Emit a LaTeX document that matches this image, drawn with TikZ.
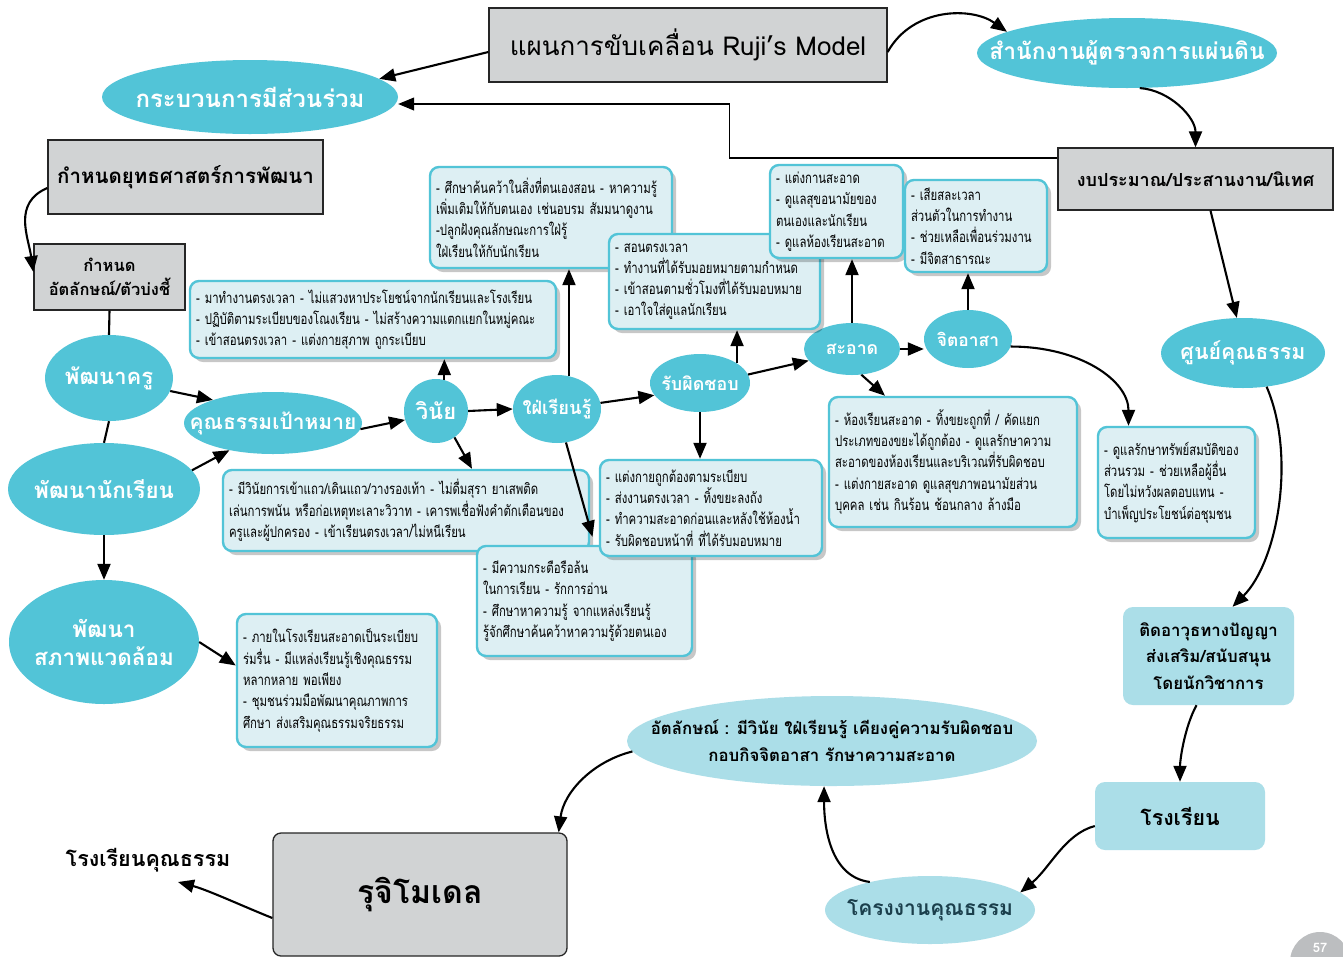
\documentclass[tikz,border=0pt]{standalone}
\usepackage{fontspec}
\setmainfont[Script=Thai]{Loma}
\newfontfamily\cond[Script=Thai,FakeStretch=0.76]{Loma}
\usetikzlibrary{shapes.geometric,arrows.meta,shadows}
\newcommand\bxl[1]{\mbox{#1}}
\definecolor{cyanE}{HTML}{52C4D7}
\definecolor{boxF}{HTML}{DDEFF3}
\definecolor{boxL}{HTML}{52C4D7}
\definecolor{grayF}{HTML}{D1D3D4}
\definecolor{lightB}{HTML}{ABDEE8}
\definecolor{darkT}{HTML}{1B3F4C}
\definecolor{pgG}{HTML}{BCBEC0}
\tikzset{
  ell/.style={ellipse, fill=cyanE, text=white, font=\bfseries, inner xsep=-40pt, inner ysep=-12pt, align=center},
  lell/.style={ellipse, fill=lightB, text=black, font=\bfseries, inner xsep=-40pt, inner ysep=-12pt, align=center},
  gbox/.style={draw=black!85, line width=1.3pt, fill=grayF, align=center, inner sep=0pt},
  lbox/.style={fill=lightB, rounded corners=10pt, align=center, inner sep=0pt, font=\bfseries},
  info/.style={draw=boxL, line width=2.4pt, fill=boxF, rounded corners=9pt,
    drop shadow={shadow xshift=4pt, shadow yshift=-4pt, opacity=0.22, fill=black},
    align=left, inner xsep=6pt, inner ysep=3pt, font=\cond\fontsize{15}{21.3}\selectfont},
  arr/.style={line width=2.1pt, -{Triangle[length=16pt,width=13pt]}},
  thinarr/.style={line width=1.1pt, -{Triangle[length=16pt,width=13pt]}},
  plain/.style={line width=2.1pt}
}
\begin{document}
\begin{tikzpicture}[x=1pt,y=-1pt]
\useasboundingbox (0,0) rectangle (1343,956);
\clip (0,0) rectangle (1343,956);
\fill[white] (0,0) rectangle (1343,956);

% grey boxes
\node[gbox, minimum width=398pt, minimum height=74pt, font=\fontsize{26}{30}\selectfont] (plan) at (688,45) {แผนการขับเคลื่อน Ruji’s Model};
\node[gbox, minimum width=275pt, minimum height=74pt, font=\bfseries\fontsize{20.5}{24}\selectfont] (yut) at (185.5,177) {กำหนดยุทธศาสตร์การพัฒนา};
\node[gbox, minimum width=151pt, minimum height=66pt, font=\bfseries\fontsize{16.5}{24}\selectfont] (att) at (109.5,277) {กำหนด\\อัตลักษณ์/ตัวบ่งชี้};
\node[gbox, minimum width=275pt, minimum height=62pt, font=\bfseries\fontsize{18}{22}\selectfont] (ngob) at (1195.5,179) {งบประมาณ/ประสานงาน/นิเทศ};
\node[gbox, rounded corners=8pt, minimum width=294pt, minimum height=123pt, font=\bfseries\fontsize{32}{36}\selectfont] (ruji) at (420,894.5) {รุจิโมเดล};

% ellipses
\node[ell, minimum width=296pt, minimum height=74pt, font=\bfseries\fontsize{24}{28}\selectfont] (kra) at (250,97) {กระบวนการมีส่วนร่วม};
\node[ell, minimum width=300pt, minimum height=70pt, font=\bfseries\fontsize{22.8}{26}\selectfont] (sam) at (1127,53) {สำนักงานผู้ตรวจการแผ่นดิน};
\node[ell, minimum width=164pt, minimum height=70pt, font=\bfseries\fontsize{21.4}{24}\selectfont] (sun) at (1243,353) {ศูนย์คุณธรรม};
\node[ell, minimum width=128pt, minimum height=86pt, font=\bfseries\fontsize{22}{24}\selectfont] (pkru) at (109,378) {พัฒนาครู};
\node[ell, minimum width=192pt, minimum height=92pt, font=\bfseries\fontsize{22.4}{24}\selectfont] (pnak) at (104,489) {พัฒนานักเรียน};
\node[ell, minimum width=190pt, minimum height=124pt, font=\bfseries\fontsize{22.5}{28}\selectfont] (psp) at (104,642) {พัฒนา\\สภาพแวดล้อม};
\node[ell, minimum width=178pt, minimum height=62pt, font=\bfseries\fontsize{21}{24}\selectfont] (kun) at (273,423) {คุณธรรมเป้าหมาย};
\node[ell, minimum width=64pt, minimum height=64pt, inner xsep=-10pt, font=\bfseries\fontsize{22}{24}\selectfont] (win) at (436,411) {วินัย};
\node[ell, minimum width=88pt, minimum height=68pt, inner xsep=-10pt, font=\bfseries\fontsize{18.3}{21}\selectfont] (fai) at (557,409) {ใฝ่เรียนรู้};
\node[ell, minimum width=100pt, minimum height=58pt, inner xsep=-10pt, font=\bfseries\fontsize{17.9}{20}\selectfont] (rab) at (700,383) {รับผิดชอบ};
\node[ell, minimum width=96pt, minimum height=52pt, inner xsep=-10pt, font=\bfseries\fontsize{17.7}{20}\selectfont] (sa) at (852,349) {สะอาด};
\node[ell, minimum width=88pt, minimum height=58pt, inner xsep=-10pt, font=\bfseries\fontsize{17.4}{20}\selectfont] (jit) at (968,339) {จิตอาสา};
\node[lell, text=darkT, minimum width=210pt, minimum height=68pt, font=\bfseries\fontsize{21}{24}\selectfont] (kro) at (930,910) {โครงงานคุณธรรม};
\node[lell, minimum width=410pt, minimum height=90pt, font=\bfseries\fontsize{16.8}{27}\selectfont] (id) at (832,741) {อัตลักษณ์ : มีวินัย ใฝ่เรียนรู้ เคียงคู่ความรับผิดชอบ\\กอบกิจจิตอาสา รักษาความสะอาด};

% light boxes
\node[lbox, minimum width=171pt, minimum height=98pt, font=\bfseries\fontsize{16.8}{26.5}\selectfont] (tid) at (1208.5,656) {ติดอาวุธทางปัญญา\\ส่งเสริม/สนับสนุน\\โดยนักวิชาการ};
\node[lbox, minimum width=170pt, minimum height=68pt, font=\bfseries\fontsize{21.4}{24}\selectfont] (rong) at (1180,816) {โรงเรียน};
\node[font=\bfseries\fontsize{21.5}{24}\selectfont] (rk) at (148,860) {โรงเรียนคุณธรรม};

% info boxes
\node[info, minimum height=101pt, text width=230pt] (a) at (551,217.5) {\bxl{- ศึกษาค้นคว้าในสิ่งที่ตนเองสอน - หาความรู้}\\\bxl{เพิ่มเติมให้กับตนเอง เช่นอบรม สัมมนาดูงาน}\\\bxl{-ปลูกฝังคุณลักษณะการใฝ่รู้}\\\bxl{ใฝ่เรียนให้กับนักเรียน}};
\node[info, minimum height=95pt, text width=199pt] (b) at (714.5,281.5) {\bxl{- สอนตรงเวลา}\\\bxl{- ทำงานที่ได้รับมอยหมายตามกำหนด}\\\bxl{- เข้าสอนตามชั่วโมงที่ได้รับมอบหมาย}\\\bxl{- เอาใจใส่ดูแลนักเรียน}};
\node[info, minimum height=93pt, text width=121pt] (c) at (836.5,211.5) {\bxl{- แต่งกานสะอาด}\\\bxl{- ดูแลสุขอนามัยของ}\\\bxl{ตนเองและนักเรียน}\\\bxl{- ดูแลห้องเรียนสะอาด}};
\node[info, minimum height=92pt, text width=130pt] (d) at (976,226) {\bxl{- เสียสละเวลา}\\\bxl{ส่วนตัวในการทำงาน}\\\bxl{- ช่วยเหลือเพื่อนร่วมงาน}\\\bxl{- มีจิตสาธารณะ}};
\node[info, minimum height=77pt, text width=354pt] (e) at (373,319.5) {\bxl{- มาทำงานตรงเวลา - ไม่แสวงหาประโยชน์จากนักเรียนและโรงเรียน}\\\bxl{- ปฏิบัติตามระเบียบของโณงเรียน - ไม่สร้างความแตกแยกในหมู่คณะ}\\\bxl{- เข้าสอนตรงเวลา - แต่งกายสุภาพ ถูกระเบียบ}};
\node[info, minimum height=81pt, text width=354pt] (f) at (406,510.5) {\bxl{- มีวินัยการเข้าแถว/เดินแถว/วางรองเท้า - ไม่ดื่มสุรา ยาเสพติด}\\\bxl{เล่นการพนัน หรือก่อเหตุทะเลาะวิวาท - เคารพเชื่อฟังคำตักเตือนของ}\\\bxl{ครูและผู้ปกครอง - เข้าเรียนตรงเวลา/ไม่หนีเรียน}};
\node[info, minimum height=110pt, text width=203pt] (h) at (584.5,601) {\bxl{- มีความกระตือรือล้น}\\\bxl{ในการเรียน - รักการอ่าน}\\\bxl{- ศึกษาหาความรู้ จากแหล่งเรียนรู้}\\\bxl{รู้จักศึกษาค้นคว้าหาความรู้ด้วยตนเอง}};
\node[info, minimum height=96pt, text width=210pt] (g) at (711,508) {\bxl{- แต่งกายถูกต้องตามระเบียบ}\\\bxl{- ส่งงานตรงเวลา - ทิ้งขยะลงถัง}\\\bxl{- ทำความสะอาดก่อนและหลังใช้ห้องน้ำ}\\\bxl{- รับผิดชอบหน้าที่ ที่ได้รับมอบหมาย}};
\node[info, minimum height=130pt, text width=236pt] (i) at (953,462) {\bxl{- ห้องเรียนสะอาด - ทิ้งขยะถูกที่ / คัดแยก}\\\bxl{ประเภทของขยะได้ถูกต้อง - ดูแลรักษาความ}\\\bxl{สะอาดของห้องเรียนและบริเวณที่รับผิดชอบ}\\\bxl{- แต่งกายสะอาด ดูแลสุขภาพอนามัยส่วน}\\\bxl{บุคคล เช่น กินร้อน ช้อนกลาง ล้างมือ}};
\node[info, minimum height=111pt, text width=145pt] (j) at (1176.5,482.5) {\bxl{- ดูแลรักษาทรัพย์สมบัติของ}\\\bxl{ส่วนรวม - ช่วยเหลือผู้อื่น}\\\bxl{โดยไม่หวังผลตอบแทน -}\\\bxl{บำเพ็ญประโยชน์ต่อชุมชน}};
\node[info, minimum height=133pt, text width=188pt] (k) at (337,680.5) {\bxl{- ภายในโรงเรียนสะอาดเป็นระเบียบ}\\\bxl{ร่มรื่น - มีแหล่งเรียนรู้เชิงคุณธรรม}\\\bxl{หลากหลาย พอเพียง}\\\bxl{- ชุมชนร่วมมือพัฒนาคุณภาพการ}\\\bxl{ศึกษา ส่งเสริมคุณธรรมจริยธรรม}};

% page number
\node[circle, fill=pgG, minimum size=60pt] (pg) at (1320,962) {};
\node[text=white, font=\bfseries\fontsize{13}{14}\selectfont, inner sep=0pt] (pgn) at (1320,948) {57};

% connectors
\draw[arr] ([yshift=-7pt]plan.west) -- (kra.8);
\draw[arr] ([yshift=-7pt]plan.east) .. controls +(25,-45) and +(-35,-25) .. (sam.170);
\draw[arr] (sam.-70) .. controls +(30,2) and +(0,-30) .. (ngob.north);
\draw[thinarr] ([yshift=21pt]ngob.west) -- ++(-328,0) -- ++(0,-54) coordinate (c2) -- (c2 -| kra.east);
\draw[arr] ([xshift=15pt]ngob.south) -- (sun.100);
\draw[arr] (sun.-55) .. controls +(30,70) and +(45,-45) .. ([xshift=24pt]tid.north);
\draw[arr] ([xshift=-12pt]tid.south) .. controls +(-12,22) and +(0,-22) .. (rong.north);
\draw[arr] ([yshift=-10pt]rong.west) .. controls +(-30,8) and +(30,-25) .. (kro.11);
\draw[arr] (kro.155) .. controls +(-40,-5) and +(0,40) .. (id.-100);
\draw[arr] (id.183) .. controls +(-40,10) and +(5,-40) .. ([xshift=-9pt]ruji.north east);
\draw[arr] ([yshift=-23.5pt]ruji.west) .. controls +(-30,-12) and +(30,8) .. ([xshift=30pt,yshift=-22pt]rk.center);
\draw[arr] ([yshift=-11pt]yut.west) .. controls +(-35,15) and +(-5,-35) .. ([yshift=5pt]att.west);
\draw[plain] (att.south) -- (pkru.north);
\draw[plain] (pkru.south) -- (pnak.north);
\draw[arr] (pnak.south) -- (psp.north);
\draw[arr] (pkru.-12) -- (kun.159);
\draw[arr] (pnak.12) -- (kun.-148);
\draw[arr] (psp.east) -- ([yshift=15pt]k.west);
\draw[arr] (kun.-4) -- (win.196);
\draw[arr] (win.75) -- (win.75 |- e.south);
\draw[arr] (win.-55) -- ([xshift=66pt]f.north);
\draw[arr] (win.east) -- (fai.west);
\draw[arr] (fai.70) -- (fai.70 |- a.south);
\draw[arr] (fai.-75) -- ([xshift=8pt,yshift=8pt]h.north);
\draw[arr] (fai.8) -- (rab.195);
\draw[arr] (rab.28) -- (rab.28 |- b.south);
\draw[arr] (rab.south) -- (rab.south |- g.north);
\draw[arr] (rab.10) -- (sa.195);
\draw[arr] (sa.north) -- (sa.north |- c.south);
\draw[arr] (sa.east) -- (sa.east -| jit.west);
\draw[arr] (sa.-70) -- ([xshift=-68pt]i.north);
\draw[arr] (jit.north) -- (jit.north |- d.south);
\draw[arr] (jit.-10) .. controls +(70,0) and +(0,-45) .. ([xshift=-48pt]j.north);
\end{tikzpicture}
\end{document}
